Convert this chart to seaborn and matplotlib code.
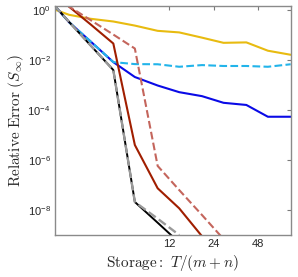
import numpy as np
import pandas as pd
import matplotlib
matplotlib.use("Agg")
import matplotlib.pyplot as plt
import seaborn as sns

sns.set_style("white")
plt.rcParams["font.family"] = ["Liberation Sans", "DejaVu Sans"]
plt.rcParams["mathtext.fontset"] = "custom"
plt.rcParams["mathtext.rm"] = "Liberation Sans"
plt.rcParams["mathtext.it"] = "Liberation Sans:italic"
plt.rcParams["mathtext.bf"] = "Liberation Sans:bold"

# Storage T/(m+n)
storage = [2, 2.5, 3.5, 5, 7, 10, 14, 20, 28, 40, 56, 80]
nan = np.nan
err_yellow = [1.05, 0.65, 0.45, 0.35, 0.24, 0.148, 0.128, 0.079, 0.049, 0.051, 0.0237, 0.0163]
err_blue = [1.48, 0.33, 0.056, 0.0083, 0.0021, 9.6e-4, 5.2e-4, 3.6e-4, 1.95e-4, 1.6e-4, 5.4e-5, 5.4e-5]
err_cyan = [1.48, 0.33, 0.056, 0.0083, 0.0069, 0.0068, 0.0054, 0.0063, 0.0058, 0.0058, 0.0054, 0.0068]
err_darkred = [4.2, 1.38, 0.27, 0.046, 4e-6, 7.4e-8, 1.17e-8, 8.9e-10, nan, nan, nan, nan]
err_salmon = [3.3, 1.4, 0.4, 0.105, 0.029, 5.8e-7, 6.3e-8, 6.3e-9, 6.9e-10, nan, nan, nan]
err_black = [1.48, 0.34, 0.039, 0.004, 2.1e-8, 3.1e-9, 5e-10, nan, nan, nan, nan, nan]
err_gray = [1.48, 0.34, 0.039, 0.004, 2.1e-8, 4.5e-9, 1.0e-9, nan, nan, nan, nan, nan]

xticks = [12, 24, 48]
yticks = [1e0, 1e-2, 1e-4, 1e-6, 1e-8]
ytick_labels = [r"$10^{0}$", r"$10^{-2}$", r"$10^{-4}$", r"$10^{-6}$", r"$10^{-8}$"]

fig = plt.figure(figsize=(2.98, 2.77), dpi=100)
ax = fig.add_axes([54.7 / 298, 1 - 235 / 277, (290.7 - 54.7) / 298, (235 - 5.7) / 277])

series = [
    (err_yellow, "#e8bb10", "-", 1.5),
    (err_blue, "#0a0ae6", "-", 1.5),
    (err_cyan, "#22b4ea", "--", 1.5),
    (err_darkred, "#a01e00", "-", 1.5),
    (err_salmon, "#c4655c", "--", 1.5),
    (err_black, "#000000", "-", 1.4),
    (err_gray, "#9a9a9a", "--", 1.7),
]
for vals, col, ls, lw in series:
    df = pd.DataFrame({"x": storage, "y": vals})
    sns.lineplot(data=df, x="x", y="y", ax=ax, color=col, linestyle=ls,
                 linewidth=lw, estimator=None, sort=False)

ax.set_xscale("log")
ax.set_yscale("log")
ax.set_xlim(2, 80)
ax.set_ylim(1e-9, 1.5)
ax.set_xticks(xticks)
ax.set_xticklabels([str(t) for t in xticks])
ax.minorticks_off()
ax.set_yticks(yticks)
ax.set_yticklabels(ytick_labels)
ax.tick_params(axis="both", which="both", direction="in", length=3, width=0.8,
               top=True, right=True, labelsize=8, color="#7a7a7a", labelcolor="#262626", pad=3)
for s in ax.spines.values():
    s.set_color("#8a8a8a")
    s.set_linewidth(1.0)

xl = ax.set_xlabel(r"$\mathrm{Storage:}\ T/(m+n)$", fontsize=11, labelpad=3)
yl = ax.set_ylabel(r"$\mathrm{Relative\ Error}\ (S_\infty)$", fontsize=11, labelpad=1)
xl.set_math_fontfamily("cm")
yl.set_math_fontfamily("cm")

fig.savefig("out.png", dpi=100)
